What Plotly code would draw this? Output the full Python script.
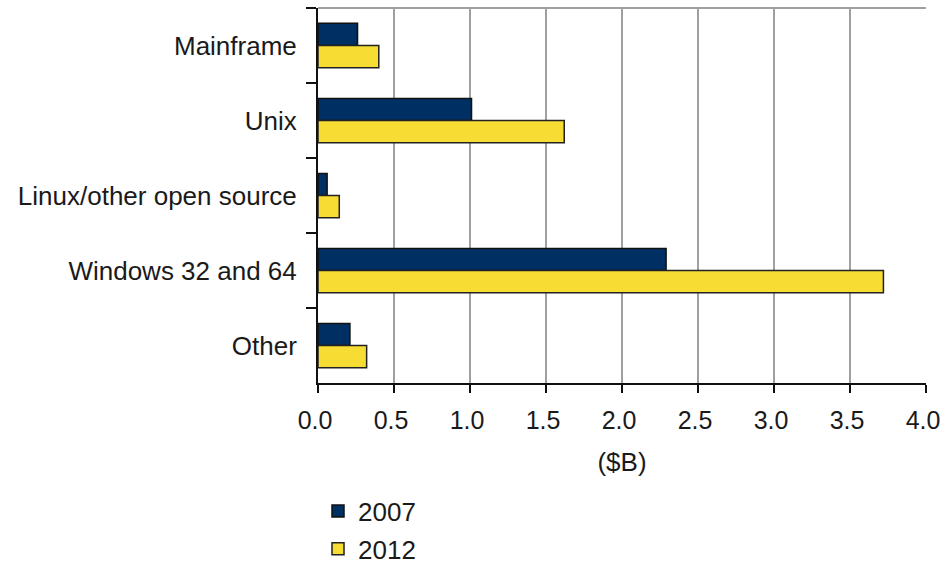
import plotly.graph_objects as go

categories = ["Mainframe", "Unix", "Linux/other open source", "Windows 32 and 64", "Other"]
values_2007 = [0.26, 1.01, 0.06, 2.29, 0.21]
values_2012 = [0.40, 1.62, 0.14, 3.72, 0.32]
series_names = ["2007", "2012"]
x_ticks = [0.0, 0.5, 1.0, 1.5, 2.0, 2.5, 3.0, 3.5, 4.0]
x_tick_labels = ["0.0", "0.5", "1.0", "1.5", "2.0", "2.5", "3.0", "3.5", "4.0"]

FONT = "Liberation Sans, Arial, sans-serif"
TXT = "#1a1a1a"
FS = 26

fig = go.Figure()
fig.add_trace(go.Bar(
    y=categories, x=values_2007, name=series_names[0], orientation="h",
    marker=dict(color="#003063", line=dict(color="#111111", width=1.5)),
    legendgroup="a",
))
fig.add_trace(go.Bar(
    y=categories, x=values_2012, name=series_names[1], orientation="h",
    marker=dict(color="#F7DC34", line=dict(color="#222222", width=1.5)),
    legendgroup="b",
))

fig.update_layout(
    width=942, height=565,
    margin=dict(l=318, r=16, t=8, b=182, autoexpand=False),
    paper_bgcolor="white", plot_bgcolor="white",
    font=dict(family=FONT, size=FS, color=TXT),
    barmode="group", bargap=0.41, bargroupgap=0,
    showlegend=True,
    legend=dict(
        x=0.0, y=-0.279, xanchor="left", yanchor="top",
        orientation="v", traceorder="grouped", tracegroupgap=1,
        font=dict(family=FONT, size=FS, color=TXT),
        bgcolor="rgba(0,0,0,0)",
    ),
    xaxis=dict(
        range=[0, 4.0], tickvals=x_ticks, ticktext=x_tick_labels,
        tickfont=dict(family=FONT, size=25, color=TXT),
        showgrid=True, gridcolor="#A0A0A0", gridwidth=2,
        zeroline=False, automargin=False,
        showline=True, linecolor="#111111", linewidth=2,
        ticks="outside", ticklen=8, tickwidth=2, tickcolor="#111111",
        ticklabelstandoff=6, ticklabelshift=-3, ticklabeloverflow="allow",
        title=dict(text="($B)", standoff=20, font=dict(family=FONT, size=FS, color=TXT)),
        fixedrange=True,
    ),
    yaxis=dict(
        autorange="reversed", type="category", automargin=False,
        showgrid=False, zeroline=False,
        showline=True, linecolor="#111111", linewidth=2,
        ticks="outside", tickson="boundaries", ticklen=10, tickwidth=2, tickcolor="#111111",
        ticklabelstandoff=14,
        fixedrange=True,
    ),
    shapes=[dict(type="line", xref="paper", yref="paper", x0=0, x1=1, y0=1, y1=1,
                 line=dict(color="#A0A0A0", width=2))],
)

fig.write_html("out.html", config={"displayModeBar": False},
               post_script="document.body.style.margin='0';document.body.style.padding='0';")
